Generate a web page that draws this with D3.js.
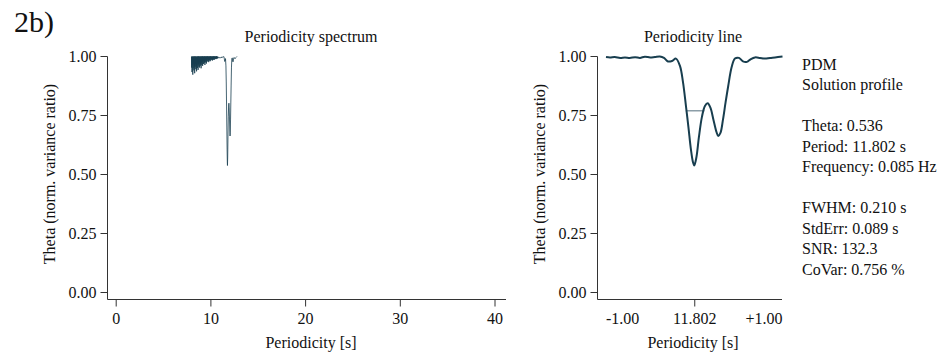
<!DOCTYPE html>
<html>
<head>
<meta charset="utf-8">
<script src="https://cdn.jsdelivr.net/npm/d3@7"></script>
<style>
  body { margin: 0; background: #fff; }
  text { font-family: "Liberation Serif", "Times New Roman", serif; fill: #111; }
</style>
</head>
<body>
<svg id="chart" width="943" height="353"></svg>
<script>
// ---- data -------------------------------------------------------------
const thetaTicks = [0, 0.25, 0.5, 0.75, 1];
const periodTicks = [0, 10, 20, 30, 40];

const bestPeriod = 11.802;   // s
const bestTheta = 0.536;
const fwhm = 0.210;          // s
const fwhmStart = -0.095;    // left half-maximum crossing, s from best period

// PDM spectrum on its regular trial-period grid (8.00 s, step 0.02 s)
const gridStart = 8.0;
const gridStep = 0.02;
const spectrumTheta = [
  0.998, 0.951, 0.996, 0.932, 0.999, 0.962, 0.994, 0.921, 0.997, 0.948, 0.995, 0.968, 0.999, 0.939, 0.993, 0.957, 0.998, 0.927, 0.996, 0.953,
  0.999, 0.966, 0.995, 0.944, 0.998, 0.958, 0.994, 0.935, 0.997, 0.962, 0.999, 0.949, 0.995, 0.971, 0.998, 0.941, 0.996, 0.964, 0.999, 0.955,
  0.997, 0.969, 0.995, 0.951, 0.999, 0.974, 0.996, 0.959, 0.998, 0.967, 0.994, 0.948, 0.999, 0.972, 0.997, 0.962, 0.995, 0.976, 0.999, 0.958,
  0.996, 0.978, 0.999, 0.966, 0.997, 0.981, 0.995, 0.970, 0.999, 0.975, 0.997, 0.962, 0.998, 0.983, 0.996, 0.973, 0.999, 0.979, 0.997, 0.968,
  0.998, 0.984, 0.996, 0.976, 0.999, 0.986, 0.997, 0.979, 0.998, 0.983, 0.996, 0.974, 0.999, 0.987, 0.997, 0.981, 0.998, 0.985, 0.996, 0.978,
  0.999, 0.988, 0.997, 0.982, 0.998, 0.989, 0.996, 0.984, 0.999, 0.987, 0.997, 0.981, 0.998, 0.990, 0.996, 0.985, 0.999, 0.988, 0.997, 0.983,
  0.998, 0.990, 0.997, 0.986, 0.999, 0.991, 0.996, 0.988, 0.998, 0.992, 0.997, 0.987, 0.999, 0.991, 0.997, 0.989, 0.998, 0.993, 0.996, 0.990
];

// Solution profile around the best period (offset in s, theta)
const profileOffset = [
  -1.00, -0.955, -0.90, -0.84, -0.785, -0.73, -0.67, -0.615, -0.56, -0.50, -0.445, -0.39,
  -0.343, -0.298, -0.252, -0.207, -0.162, -0.128, -0.094, -0.066, -0.037, -0.015, 0.0,
  0.025, 0.053, 0.087, 0.121, 0.152, 0.184, 0.218, 0.252, 0.272, 0.297, 0.325, 0.354,
  0.385, 0.424, 0.461, 0.507, 0.552, 0.597, 0.642, 0.688, 0.744, 0.801, 0.858, 0.915, 1.00
];
const profileTheta = [
  0.996, 0.994, 0.996, 0.992, 0.994, 0.992, 0.995, 0.992, 0.997, 0.994, 0.996, 0.998,
  0.992, 0.977, 0.979, 0.989, 0.958, 0.890, 0.788, 0.699, 0.602, 0.551, 0.536,
  0.572, 0.657, 0.742, 0.788, 0.800, 0.780, 0.729, 0.678, 0.661, 0.674, 0.729, 0.801,
  0.873, 0.953, 0.989, 0.992, 0.977, 0.975, 0.987, 0.994, 0.992, 0.989, 0.992, 0.994, 0.998
];

const summaryLines = [
  "PDM", "Solution profile", "",
  "Theta: 0.536", "Period: 11.802 s", "Frequency: 0.085 Hz", "",
  "FWHM: 0.210 s", "StdErr: 0.089 s", "SNR: 132.3", "CoVar: 0.756 %"
];

// ---- drawing ----------------------------------------------------------
const ink = "#183e4f";
const axisInk = "#333";
const svg = d3.select("#chart");

const y = d3.scaleLinear().domain([0, 1]).range([292, 56]);
const xL = d3.scaleLinear().domain([0, 40]).range([115.7, 494.5]);
const xR = d3.scaleLinear().domain([-1, 1]).range([606, 782.5]);

const axisY = 299.5;

function styleAxis(g) {
  g.select(".domain").remove();
  g.selectAll("line").attr("stroke", axisInk);
  g.selectAll("text").attr("font-size", 16).attr("fill", "#111")
    .style("font-family", '"Liberation Serif", "Times New Roman", serif');
}

function panel(x0, x1, title, titleX) {
  // y axis
  const gy = svg.append("g").attr("transform", `translate(${x0},0)`)
    .call(d3.axisLeft(y).tickValues(thetaTicks).tickFormat(d3.format(".2f")).tickSize(7).tickPadding(4));
  styleAxis(gy);
  svg.append("path")
    .attr("d", `M${x0},${y(1) + 0.5}V${axisY}H${x1}`)
    .attr("fill", "none").attr("stroke", axisInk).attr("stroke-width", 1);
  // y title
  svg.append("text")
    .attr("transform", `translate(${x0 - 53},${(y(0) + y(1)) / 2}) rotate(-90)`)
    .attr("text-anchor", "middle").attr("font-size", 16)
    .text("Theta (norm. variance ratio)");
  // panel title
  svg.append("text").attr("x", titleX).attr("y", 42)
    .attr("text-anchor", "middle").attr("font-size", 16).text(title);
  // x title
  svg.append("text").attr("x", titleX).attr("y", 348)
    .attr("text-anchor", "middle").attr("font-size", 16).text("Periodicity [s]");
}

// Left panel: full periodicity spectrum
panel(107.5, 506, "Periodicity spectrum", 311);
const gxL = svg.append("g").attr("transform", `translate(0,${axisY})`)
  .call(d3.axisBottom(xL).tickValues(periodTicks).tickFormat(d3.format("d")).tickSize(7).tickPadding(6));
styleAxis(gxL);

const spectrum = spectrumTheta.map((t, i) => [gridStart + i * gridStep, t])
  .concat(profileOffset.map((o, i) => [bestPeriod + o, profileTheta[i]]));

svg.append("path")
  .datum(spectrum)
  .attr("fill", "none")
  .attr("stroke", ink)
  .attr("stroke-width", 0.8)
  .attr("d", d3.line().x(d => xL(d[0])).y(d => y(d[1])));

// Right panel: solution profile around the best period
panel(597.5, 782, "Periodicity line", 693);
const gxR = svg.append("g").attr("transform", `translate(0,${axisY})`)
  .call(d3.axisBottom(xR).tickValues([0]).tickFormat(() => bestPeriod.toFixed(3)).tickSize(7).tickPadding(6));
styleAxis(gxR);
const edgeLabelY = axisY + 7 + 6 + 11.5;
svg.append("text").attr("x", xR(-1)).attr("y", edgeLabelY)
  .attr("text-anchor", "start").attr("font-size", 16).text("-1.00");
svg.append("text").attr("x", xR(1)).attr("y", edgeLabelY)
  .attr("text-anchor", "end").attr("font-size", 16).text("+1.00");

// half-maximum width marker
const halfLevel = (1 + bestTheta) / 2;
svg.append("line")
  .attr("x1", xR(fwhmStart)).attr("x2", xR(fwhmStart + fwhm))
  .attr("y1", y(halfLevel)).attr("y2", y(halfLevel))
  .attr("stroke", "#8c9ea8").attr("stroke-width", 1.5);

svg.append("path")
  .datum(profileOffset.map((o, i) => [o, profileTheta[i]]))
  .attr("fill", "none")
  .attr("stroke", ink)
  .attr("stroke-width", 2)
  .attr("stroke-linejoin", "round")
  .attr("d", d3.line().x(d => xR(d[0])).y(d => y(d[1])).curve(d3.curveCatmullRom.alpha(0.5)));

// Summary block
const summary = svg.append("text").attr("x", 802).attr("font-size", 16);
summaryLines.forEach((s, i) => {
  summary.append("tspan").attr("x", 802).attr("y", 69.5 + i * 20.5).text(s || "\u00a0");
});

// Figure label
svg.append("text").attr("x", 14).attr("y", 32).attr("font-size", 30).text("2b)");
</script>
</body>
</html>
